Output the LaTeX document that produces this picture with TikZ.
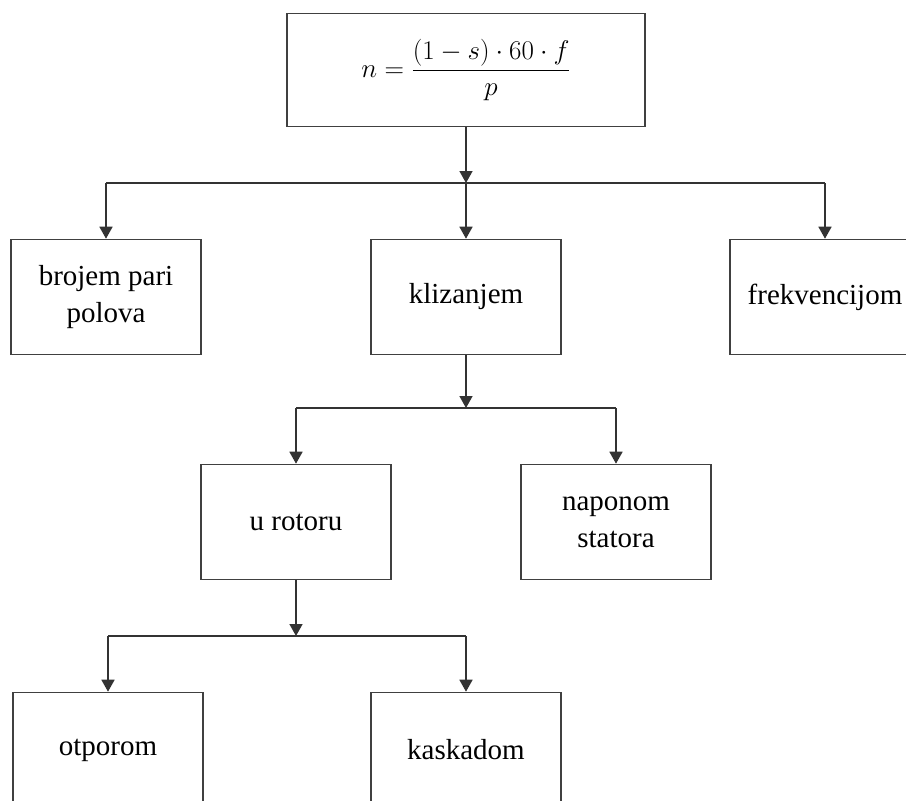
\RequirePackage{fix-cm}
\documentclass[tikz,border=0pt]{standalone}
\usepackage{fontspec}
\setmainfont{Liberation Serif}
\usetikzlibrary{arrows.meta,positioning}

\begin{document}
\begin{tikzpicture}[x=1pt, y=-1pt, line width=1.6pt,
  box/.style={draw=black!75, rectangle, minimum width=190pt, minimum height=115pt,
    align=center, inner sep=0pt, font=\fontsize{29}{37}\selectfont},
  freccia/.style={draw=black!80, -{Triangle[width=13pt,length=12pt]}}]
\useasboundingbox (0,0) rectangle (906,801);
\clip (0,0) rectangle (906,801);
% formula
\node[box, minimum width=358pt, minimum height=113pt, font=\fontsize{27}{32}\selectfont]
  (formula) at (466,70) {$\displaystyle n=\frac{(1-s)\cdot 60\cdot f}{p}$};
% primo livello
\node[box] (polovi)   at (106,297) {brojem pari\\polova};
\node[box] (klizanje) at (466,297) {klizanjem};
\node[box] (frekv)    at (825,297) {frekvencijom};
% secondo livello
\node[box] (rotor)  at (296,522) {u rotoru};
\node[box] (stator) at (616,522) {naponom\\statora};
% terzo livello
\node[box] (otpor)  at (108,750) {otporom};
\node[box] (kaskad) at (466,750) {kaskadom};
% sbarre
\coordinate (s1) at (466,183);
\coordinate (s2) at (466,408);
\coordinate (s3) at (296,636);
% frecce
\draw[freccia] (formula) -- (s1);
\draw[draw=black!80] (polovi.north |- s1) -- (frekv.north |- s1);
\foreach \n in {polovi,klizanje,frekv}{
  \draw[freccia] (\n.north |- s1) -- (\n.north);
}
\draw[freccia] (klizanje) -- (s2);
\draw[draw=black!80] (rotor.north |- s2) -- (stator.north |- s2);
\foreach \n in {rotor,stator}{
  \draw[freccia] (\n.north |- s2) -- (\n.north);
}
\draw[freccia] (rotor) -- (s3);
\draw[draw=black!80] (otpor.north |- s3) -- (kaskad.north |- s3);
\foreach \n in {otpor,kaskad}{
  \draw[freccia] (\n.north |- s3) -- (\n.north);
}
\end{tikzpicture}
\end{document}
